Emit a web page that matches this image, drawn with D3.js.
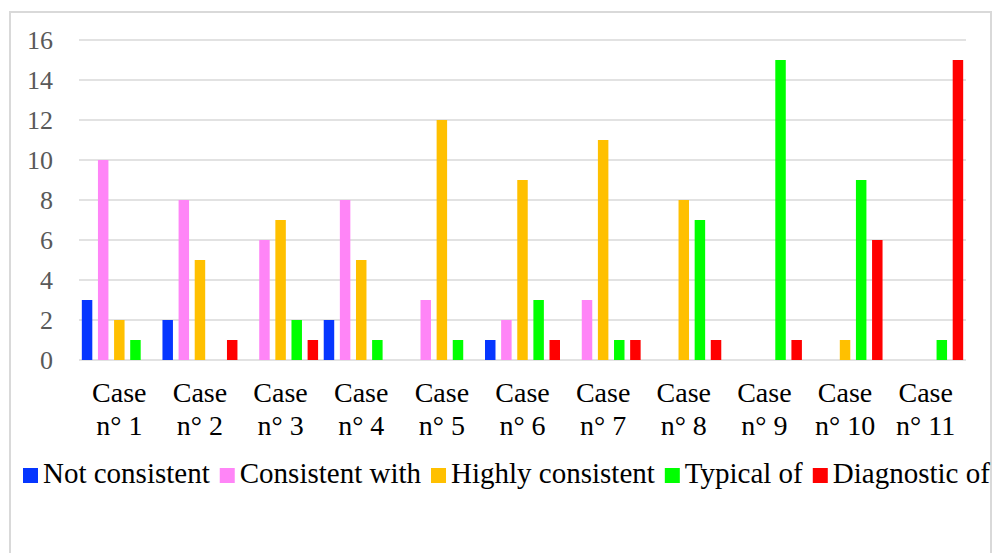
<!DOCTYPE html>
<html><head><meta charset="utf-8">
<script src="https://cdn.jsdelivr.net/npm/d3@7"></script>
<style>html,body{margin:0;padding:0;background:#fff;}svg{display:block;}
text{font-family:"Liberation Serif","Tinos","Times New Roman","DejaVu Serif",serif;}</style>
</head><body>
<svg id="chart" width="993" height="553"></svg>
<script>
const categories = ["Case n° 1","Case n° 2","Case n° 3","Case n° 4","Case n° 5","Case n° 6","Case n° 7","Case n° 8","Case n° 9","Case n° 10","Case n° 11"];
const seriesNames = ["Not consistent","Consistent with","Highly consistent","Typical of","Diagnostic of"];
const seriesColors = ["#0636ff","#ff85f7","#ffc000","#00ff00","#ff0000"];
const notConsistent    = [3,2,0,2,0,1,0,0,0,0,0];
const consistentWith   = [10,8,6,8,3,2,3,0,0,0,0];
const highlyConsistent = [2,5,7,5,12,9,11,8,0,1,0];
const typicalOf        = [1,0,2,1,1,3,1,7,15,9,1];
const diagnosticOf     = [0,1,1,0,0,1,1,1,1,6,15];
const yTicks = [0,2,4,6,8,10,12,14,16];

const series = [notConsistent, consistentWith, highlyConsistent, typicalOf, diagnosticOf];
const svg = d3.select("#chart");

// frame
svg.append("rect").attr("x",10).attr("y",12).attr("width",981).attr("height",560)
  .attr("fill","none").attr("stroke","#d9d9d9").attr("stroke-width",2);

const x0 = d3.scaleBand().domain(categories).range([79,966]).padding(0);
const x1 = d3.scaleBand().domain(seriesNames).range([0,x0.bandwidth()]).paddingInner(0.35).paddingOuter(0.175);
const y = d3.scaleLinear().domain([0,16]).range([360,40]);

// gridlines
svg.append("g").selectAll("line").data(yTicks).join("line")
  .attr("x1",79).attr("x2",966).attr("y1",d=>y(d)).attr("y2",d=>y(d))
  .attr("stroke","#d9d9d9").attr("stroke-width",1.5);

// y labels
svg.append("g").selectAll("text").data(yTicks).join("text")
  .attr("x",53).attr("y",d=>y(d)).attr("dy","0.34em").attr("text-anchor","end")
  .attr("font-size",26).attr("fill","#595959").text(d=>d);

// bars
const g = svg.append("g");
series.forEach((vals,si)=>{
  g.append("g").selectAll("rect").data(vals).join("rect")
    .attr("x",(d,i)=>x0(categories[i])+x1(seriesNames[si]))
    .attr("width",x1.bandwidth())
    .attr("y",d=>y(d)).attr("height",d=>y(0)-y(d))
    .attr("fill",seriesColors[si]);
});

// x labels
const xl = svg.append("g").selectAll("text").data(categories).join("text")
  .attr("text-anchor","middle").attr("font-size",28).attr("fill","#000");
xl.each(function(d){
  const parts = d.split(" ");
  const t = d3.select(this);
  const cx = x0(d)+x0.bandwidth()/2;
  t.append("tspan").attr("x",cx).attr("y",402).text(parts[0]);
  t.append("tspan").attr("x",cx).attr("y",435).text(parts.slice(1).join(" "));
});

// legend
const leg = svg.append("g");
let lx = 23;
seriesNames.forEach((name,i)=>{
  leg.append("rect").attr("x",lx).attr("y",468).attr("width",15).attr("height",15).attr("fill",seriesColors[i]);
  const t = leg.append("text").attr("x",lx+20).attr("y",483)
    .attr("font-size",29).attr("fill","#000").text(name);
  lx = lx + 20 + t.node().getComputedTextLength() + 10;
});
</script>
</body></html>
